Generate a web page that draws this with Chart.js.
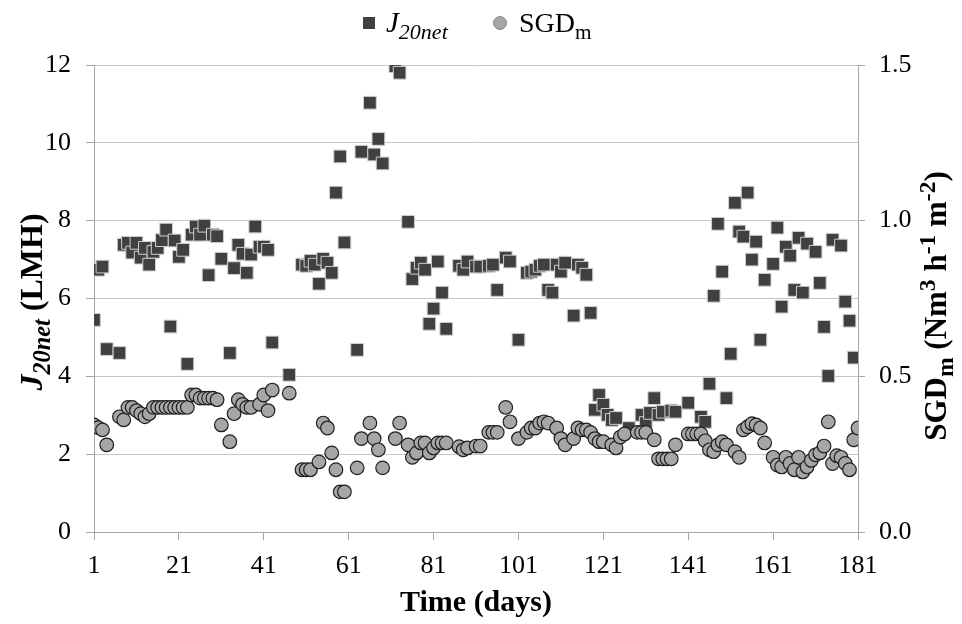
<!DOCTYPE html>
<html><head><meta charset="utf-8">
<script src="https://cdn.jsdelivr.net/npm/chart.js@4/dist/chart.umd.min.js"></script>
<style>html,body{margin:0;padding:0;background:#fff;}#wrap{width:962px;height:624px;position:relative;}</style>
</head><body><div id="wrap"><canvas id="c" width="962" height="624"></canvas></div>
<script>
const xTicks = [1, 21, 41, 61, 81, 101, 121, 141, 161, 181];
const yTicks = [0, 2, 4, 6, 8, 10, 12];
const y2Ticks = [0, 0.5, 1.0, 1.5];

const jDays = [1,2,3,4,7,8,9,10,11,12,13,14,15,16,17,18,19,20,21,22,23,24,25,26,27,28,29,30,31,33,34,35,36,37,38,39,40,41,42,43,47,
  50,51,52,53,54,55,56,57,58,59,60,63,64,66,67,68,69,72,73,75,76,77,78,79,80,81,82,83,84,87,88,89,91,92,94,95,96,98,99,101,
  103,104,105,106,107,108,109,110,111,112,114,115,116,117,118,119,120,121,122,123,124,127,130,131,132,133,134,135,137,138,141,
  144,145,146,147,148,149,150,151,152,153,154,155,156,157,158,159,161,162,163,164,165,166,167,168,169,171,172,173,174,175,177,178,179,180,181];
const jValues = [5.45,6.74,6.82,4.7,4.6,7.38,7.43,7.18,7.43,7.05,7.3,6.87,7.2,7.3,7.5,7.77,5.28,7.49,7.07,7.25,4.32,7.64,7.85,7.64,7.87,6.6,7.64,7.6,7.02,4.6,6.78,7.38,7.15,6.66,7.13,7.85,7.33,7.33,7.25,4.87,4.04,
  6.87,6.84,6.97,6.87,6.38,7.02,6.92,6.66,8.72,9.65,7.44,4.68,9.77,11.03,9.7,10.1,9.47,11.97,11.8,7.97,6.5,6.79,6.92,6.74,5.35,5.74,6.95,6.15,5.22,6.84,6.74,6.95,6.82,6.82,6.84,6.87,6.22,7.05,6.95,4.94,
  6.66,6.69,6.74,6.84,6.87,6.22,6.15,6.87,6.69,6.92,5.56,6.87,6.79,6.61,5.63,3.14,3.52,3.27,3.01,2.88,2.93,2.67,3.01,2.8,3.06,3.44,3.01,3.09,3.12,3.09,3.32,
  2.96,2.83,3.81,6.07,7.92,6.69,3.44,4.58,8.46,7.72,7.59,8.72,7.0,7.46,4.94,6.48,6.89,7.82,5.79,7.33,7.1,6.22,7.56,6.15,7.41,7.2,6.4,5.27,4.01,7.51,7.36,5.92,5.43,4.48,2.42];

const sgdDays = [1,2,3,4,7,8,9,10,11,12,13,14,15,16,17,18,19,20,21,22,23,24,25,26,27,28,29,30,31,33,34,35,36,37,38,40,41,42,43,47,
  50,51,52,54,55,56,57,58,59,60,63,64,66,67,68,69,72,73,75,76,77,78,79,80,81,82,83,84,87,88,89,91,92,94,95,96,98,99,101,
  103,104,105,106,107,108,110,111,112,114,115,116,117,118,119,120,121,123,124,125,126,129,130,131,133,134,135,136,137,138,
  141,142,143,144,145,146,147,148,149,150,152,153,154,155,156,157,158,159,161,162,163,164,165,166,167,168,169,170,171,172,173,174,175,176,177,178,179,180,181];
const sgdValues = [0.344,0.335,0.328,0.28,0.37,0.36,0.40,0.40,0.39,0.38,0.37,0.38,0.40,0.40,0.40,0.40,0.40,0.40,0.40,0.40,0.40,0.44,0.44,0.43,0.43,0.43,0.43,0.425,0.344,0.29,0.38,0.425,0.41,0.40,0.40,0.41,0.44,0.39,0.456,0.446,
  0.20,0.20,0.20,0.225,0.35,0.334,0.254,0.20,0.129,0.129,0.206,0.30,0.35,0.30,0.264,0.206,0.30,0.35,0.28,0.24,0.254,0.286,0.286,0.254,0.27,0.286,0.286,0.286,0.274,0.264,0.27,0.276,0.276,0.32,0.32,0.32,0.40,0.354,0.30,
  0.32,0.334,0.334,0.35,0.354,0.35,0.334,0.30,0.28,0.30,0.334,0.328,0.328,0.32,0.30,0.29,0.29,0.28,0.27,0.305,0.315,0.32,0.32,0.32,0.296,0.235,0.235,0.235,0.235,0.28,
  0.315,0.315,0.315,0.315,0.293,0.264,0.258,0.28,0.29,0.28,0.258,0.24,0.328,0.338,0.348,0.344,0.334,0.286,0.24,0.215,0.209,0.24,0.22,0.20,0.24,0.193,0.209,0.23,0.248,0.254,0.276,0.354,0.22,0.245,0.24,0.22,0.20,0.296,0.334];

const FONT = '"Liberation Serif", "Times New Roman", serif';
const SUB_SCALE = 0.76;

function fontFor(r, size, bold) {
  const s = (r.sub || r.sup) ? size * SUB_SCALE : size;
  return (r.it ? 'italic ' : '') + (bold ? 'bold ' : '') + s.toFixed(1) + 'px ' + FONT;
}
function drawRich(ctx, runs, x, y, size, bold, rotate, align) {
  ctx.save();
  ctx.translate(x, y);
  if (rotate) ctx.rotate(-Math.PI / 2);
  ctx.textBaseline = 'alphabetic';
  ctx.textAlign = 'left';
  ctx.fillStyle = '#000';
  let total = 0;
  const ws = runs.map(r => { ctx.font = fontFor(r, size, bold); const w = ctx.measureText(r.t).width; total += w; return w; });
  let cx = align === 'left' ? 0 : -total / 2;
  runs.forEach((r, i) => {
    ctx.font = fontFor(r, size, bold);
    const dy = r.sub ? size * 0.24 : (r.sup ? -size * 0.36 : 0);
    ctx.fillText(r.t, cx, dy);
    cx += ws[i];
  });
  ctx.restore();
}

const textPlugin = {
  id: 'richText',
  afterDraw(chart) {
    const ctx = chart.ctx;
    // legend markers
    ctx.save();
    ctx.fillStyle = '#404040';
    ctx.fillRect(363, 17, 12, 12);
    ctx.beginPath();
    ctx.arc(500, 23, 6.5, 0, Math.PI * 2);
    ctx.fillStyle = '#a6a6a6';
    ctx.fill();
    ctx.strokeStyle = '#8a8a8a';
    ctx.lineWidth = 1;
    ctx.stroke();
    ctx.restore();
    drawRich(ctx, [{t: 'J', it: 1}, {t: '20net', it: 1, sub: 1}], 386, 32, 29, false, false, 'left');
    drawRich(ctx, [{t: 'SGD'}, {t: 'm', sub: 1}], 519, 32, 28, false, false, 'left');
    // axis titles
    drawRich(ctx, [{t: 'Time (days)'}], 476, 611, 30, true, false, 'center');
    drawRich(ctx, [{t: 'J', it: 1}, {t: '20net', it: 1, sub: 1}, {t: ' (LMH)'}], 42, 302, 32, true, true, 'center');
    drawRich(ctx, [{t: 'SGD'}, {t: 'm', sub: 1}, {t: ' (Nm'}, {t: '3', sup: 1}, {t: ' h'}, {t: '-1', sup: 1}, {t: ' m'}, {t: '-2', sup: 1}, {t: ')'}], 946, 306, 31, true, true, 'center');
  }
};

const axisGray = '#a6a6a6';
const gridGray = '#c6c6c6';
const tickFont = {family: FONT, size: 26};

new Chart(document.getElementById('c'), {
  type: 'scatter',
  data: {
    datasets: [
      {
        label: 'J20net',
        data: jDays.map((d, i) => ({x: d, y: jValues[i]})),
        yAxisID: 'y',
        pointStyle: 'rect',
        pointRadius: 9,
        pointHoverRadius: 9,
        backgroundColor: '#404040',
        borderColor: '#cfcfcf',
        borderWidth: 1,
        order: 1
      },
      {
        label: 'SGDm',
        data: sgdDays.map((d, i) => ({x: d, y: sgdValues[i]})),
        yAxisID: 'y1',
        pointStyle: 'circle',
        pointRadius: 6.8,
        pointHoverRadius: 6.8,
        backgroundColor: '#a6a6a6',
        borderColor: '#1e1e1e',
        borderWidth: 1.2,
        order: 0
      }
    ]
  },
  options: {
    responsive: false,
    animation: false,
    devicePixelRatio: 1,
    layout: {padding: {top: 65, left: 0, right: 0, bottom: 0}},
    plugins: {legend: {display: false}, tooltip: {enabled: false}},
    scales: {
      x: {
        type: 'linear', position: 'bottom', min: 1, max: 181,
        afterBuildTicks: s => { s.ticks = xTicks.map(v => ({value: v})); },
        afterFit: s => { s.height = 92; },
        ticks: {font: tickFont, color: '#000', padding: 11, maxRotation: 0, autoSkip: false},
        grid: {drawOnChartArea: false, drawTicks: true, tickLength: 8, tickColor: axisGray},
        border: {display: true, color: axisGray, width: 1}
      },
      y: {
        type: 'linear', position: 'left', min: 0, max: 12,
        afterBuildTicks: s => { s.ticks = yTicks.map(v => ({value: v})); },
        afterFit: s => { s.width = 94; },
        ticks: {font: tickFont, color: '#000', padding: 15},
        grid: {color: gridGray, drawTicks: true, tickLength: 8, tickColor: axisGray},
        border: {display: true, color: axisGray, width: 1}
      },
      y1: {
        type: 'linear', position: 'right', min: 0, max: 1.5,
        afterBuildTicks: s => { s.ticks = y2Ticks.map(v => ({value: v})); },
        afterFit: s => { s.width = 104; },
        ticks: {font: tickFont, color: '#000', padding: 14, callback: v => Number(v).toFixed(1)},
        grid: {drawOnChartArea: false, drawTicks: true, tickLength: 7, tickColor: axisGray},
        border: {display: true, color: axisGray, width: 1}
      }
    }
  },
  plugins: [textPlugin]
});
</script>
</body></html>
